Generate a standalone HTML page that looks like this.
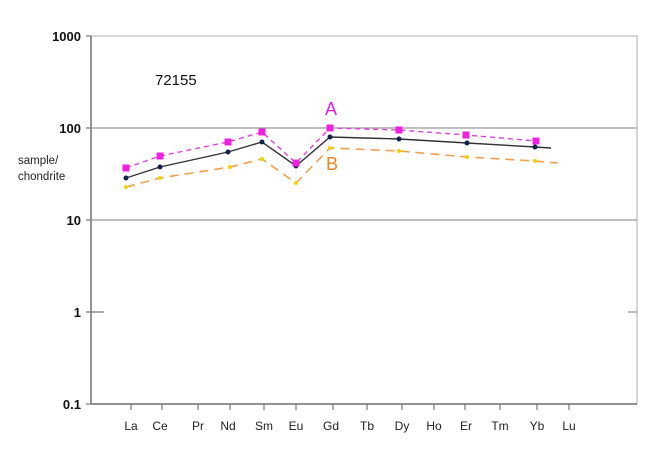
<!DOCTYPE html>
<html><head><style>
body{margin:0;background:#fff;}
svg text{font-family:"Liberation Sans",sans-serif;}
</style></head><body>
<svg width="666" height="461" viewBox="0 0 666 461" xmlns="http://www.w3.org/2000/svg">
<rect x="0" y="0" width="666" height="461" fill="#fff"/>
<!-- frame -->
<rect x="91" y="36" width="546" height="368" fill="none" stroke="#c8c8c8" stroke-width="1.5"/>
<line x1="91" y1="36" x2="91" y2="404" stroke="#777" stroke-width="1.5"/>
<line x1="91" y1="404" x2="637" y2="404" stroke="#777" stroke-width="1.5"/>
<!-- gridlines -->
<line x1="91" y1="128" x2="637" y2="128" stroke="#999" stroke-width="1.3"/>
<line x1="91" y1="220" x2="637" y2="220" stroke="#999" stroke-width="1.3"/>
<line x1="628" y1="312" x2="637" y2="312" stroke="#999" stroke-width="1.3"/>
<!-- y ticks -->
<g stroke="#777" stroke-width="1.2">
<line x1="86" y1="36" x2="91" y2="36"/><line x1="86" y1="128" x2="91" y2="128"/>
<line x1="86" y1="220" x2="91" y2="220"/><line x1="86" y1="312" x2="104" y2="312"/>
<line x1="86" y1="404" x2="91" y2="404"/>
</g>
<g font-size="13" font-weight="bold" text-anchor="end" fill="#111">
<text x="81" y="41">1000</text><text x="81" y="133">100</text>
<text x="81" y="225">10</text><text x="81" y="317">1</text><text x="81" y="409">0.1</text>
</g>
<text x="18" y="164" font-size="11.5" fill="#222">sample/</text>
<text x="18" y="180" font-size="11.5" fill="#222">chondrite</text>
<!-- x ticks -->
<g stroke="#777" stroke-width="1.2">
<line x1="131" y1="404" x2="131" y2="410"/><line x1="162" y1="404" x2="162" y2="410"/>
<line x1="198" y1="404" x2="198" y2="410"/><line x1="230" y1="404" x2="230" y2="410"/>
<line x1="264" y1="404" x2="264" y2="410"/><line x1="296" y1="404" x2="296" y2="410"/>
<line x1="333" y1="404" x2="333" y2="410"/><line x1="367" y1="404" x2="367" y2="410"/>
<line x1="402" y1="404" x2="402" y2="410"/><line x1="434" y1="404" x2="434" y2="410"/>
<line x1="465" y1="404" x2="465" y2="410"/><line x1="500" y1="404" x2="500" y2="410"/>
<line x1="537" y1="404" x2="537" y2="410"/><line x1="569" y1="404" x2="569" y2="410"/>
</g>
<g font-size="12" text-anchor="middle" fill="#222">
<text x="131" y="430">La</text><text x="160" y="430">Ce</text><text x="198" y="430">Pr</text>
<text x="228" y="430">Nd</text><text x="264" y="430">Sm</text><text x="296" y="430">Eu</text>
<text x="331" y="430">Gd</text><text x="367" y="430">Tb</text><text x="402" y="430">Dy</text>
<text x="434" y="430">Ho</text><text x="466" y="430">Er</text><text x="500" y="430">Tm</text>
<text x="537" y="430">Yb</text><text x="569" y="430">Lu</text>
</g>
<text x="155" y="85" font-size="15" fill="#111">72155</text>
<text x="325" y="115" font-size="18" fill="#e020e0">A</text>
<text x="326" y="170" font-size="18" fill="#f08020">B</text>
<!-- orange B -->
<polyline points="126,187 160,178 230,167 262,159 296,183 330,148 399,151 467,157 535,161 558,163" fill="none" stroke="#f0a050" stroke-width="1.6" stroke-dasharray="9,6"/>
<g fill="#f5d000">
<circle cx="126" cy="187" r="2"/><circle cx="160" cy="178" r="2"/><circle cx="230" cy="167" r="2"/>
<circle cx="262" cy="159" r="2"/><circle cx="296" cy="183" r="2"/><circle cx="330" cy="148" r="2"/>
<circle cx="399" cy="151" r="2"/><circle cx="467" cy="157" r="2"/><circle cx="535" cy="161" r="2"/>
</g>
<!-- black -->
<polyline points="126,178 160,167 228,152 262,142 296,166 330,137 399,139 467,143 535,147 551,148" fill="none" stroke="#333" stroke-width="1.4"/>
<g fill="#102050">
<circle cx="126" cy="178" r="2.5"/><circle cx="160" cy="167" r="2.5"/><circle cx="228" cy="152" r="2.5"/>
<circle cx="262" cy="142" r="2.5"/><circle cx="296" cy="166" r="2.5"/><circle cx="330" cy="137" r="2.5"/>
<circle cx="399" cy="139" r="2.5"/><circle cx="467" cy="143" r="2.5"/><circle cx="535" cy="147" r="2.5"/>
</g>
<!-- pink A -->
<polyline points="126,168 160,156 228,142 262,132 296,163 330,128 399,130 466,135 536,141" fill="none" stroke="#e040e0" stroke-width="1.4" stroke-dasharray="5,4"/>
<g fill="#f020e0">
<rect x="122.5" y="164.5" width="7" height="7"/><rect x="156.5" y="152.5" width="7" height="7"/>
<rect x="224.5" y="138.5" width="7" height="7"/><rect x="258.5" y="128.5" width="7" height="7"/>
<rect x="292.5" y="159.5" width="7" height="7"/><rect x="326.5" y="124.5" width="7" height="7"/>
<rect x="395.5" y="126.5" width="7" height="7"/><rect x="462.5" y="131.5" width="7" height="7"/>
<rect x="532.5" y="137.5" width="7" height="7"/>
</g>
</svg>
</body></html>
